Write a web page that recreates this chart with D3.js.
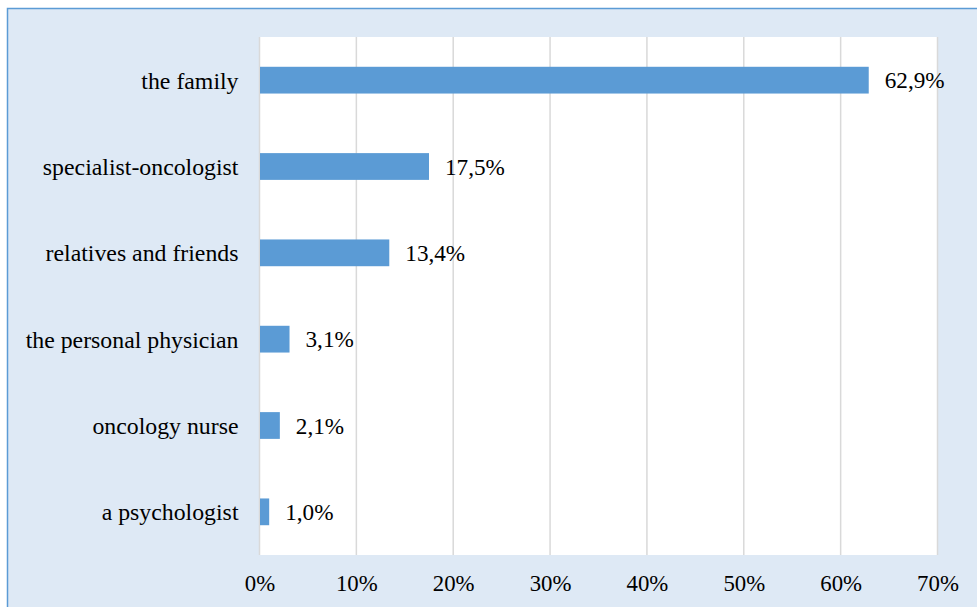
<!DOCTYPE html>
<html>
<head>
<meta charset="utf-8">
<script src="https://cdn.jsdelivr.net/npm/d3@7"></script>
<style>
  html, body { margin: 0; padding: 0; background: #ffffff; }
  svg { display: block; }
</style>
</head>
<body>
<svg id="chart" width="977" height="607"></svg>
<script>
// Who patients talk to — share of respondents (%)
const categories = [
  "the family",
  "specialist-oncologist",
  "relatives and friends",
  "the personal physician",
  "oncology nurse",
  "a psychologist"
];
const values = [62.9, 17.5, 13.4, 3.1, 2.1, 1.0];
const tickValues = [0, 10, 20, 30, 40, 50, 60, 70];

const FONT = "Liberation Serif";
const W = 977, H = 607;
const plot = { left: 259.5, right: 937.5, top: 37, bottom: 555 };

const svg = d3.select("#chart");

// outer frame
svg.append("rect")
  .attr("x", 7.5).attr("y", 8.5)
  .attr("width", W + 10).attr("height", H + 10)
  .attr("fill", "#dee9f5")
  .attr("stroke", "#5b9bd5").attr("stroke-width", 1.5);

// white plot area
svg.append("rect")
  .attr("x", plot.left).attr("y", plot.top)
  .attr("width", plot.right - plot.left).attr("height", plot.bottom - plot.top)
  .attr("fill", "#ffffff");

const x = d3.scaleLinear().domain([0, 70]).range([plot.left, plot.right]);
const y = d3.scaleBand().domain(categories).range([plot.top, plot.bottom]).paddingInner(0.69).paddingOuter(0.345);

// vertical gridlines
svg.append("g")
  .selectAll("line")
  .data(tickValues)
  .join("line")
  .attr("x1", d => x(d)).attr("x2", d => x(d))
  .attr("y1", plot.top).attr("y2", plot.bottom)
  .attr("stroke", "#d9d9d9").attr("stroke-width", 1.5);

// x axis tick labels
const xAxis = d3.axisBottom(x).tickValues(tickValues).tickFormat(d => d + "%").tickSize(0).tickPadding(0);
const gx = svg.append("g").attr("transform", `translate(0,${plot.bottom})`).call(xAxis)
  .attr("font-family", FONT).attr("font-size", 22.8);
gx.select(".domain").remove();
gx.selectAll("text").attr("y", 35.5).attr("dy", null).attr("fill", "#000");

// y axis category labels
const yAxis = d3.axisLeft(y).tickSize(0).tickPadding(21);
const gy = svg.append("g").attr("transform", `translate(${plot.left},0)`).call(yAxis)
  .attr("font-family", FONT).attr("font-size", 23.8);
gy.select(".domain").remove();
gy.selectAll("text").attr("dy", "0.35em").attr("fill", "#000");

// bars
const rows = categories.map((c, i) => ({ c, v: values[i] }));
svg.append("g")
  .selectAll("rect")
  .data(rows)
  .join("rect")
  .attr("x", x(0) + 0.5)
  .attr("y", d => y(d.c))
  .attr("width", d => x(d.v) - x(0) - 0.5)
  .attr("height", y.bandwidth())
  .attr("fill", "#5b9bd5");

// value labels
svg.append("g")
  .attr("font-family", FONT).attr("font-size", 23.2)
  .selectAll("text")
  .data(rows)
  .join("text")
  .attr("x", d => x(d.v) + 16)
  .attr("y", d => y(d.c) + y.bandwidth() / 2)
  .attr("dy", "0.35em")
  .attr("fill", "#000")
  .text(d => d.v.toFixed(1).replace(".", ",") + "%");
</script>
</body>
</html>
